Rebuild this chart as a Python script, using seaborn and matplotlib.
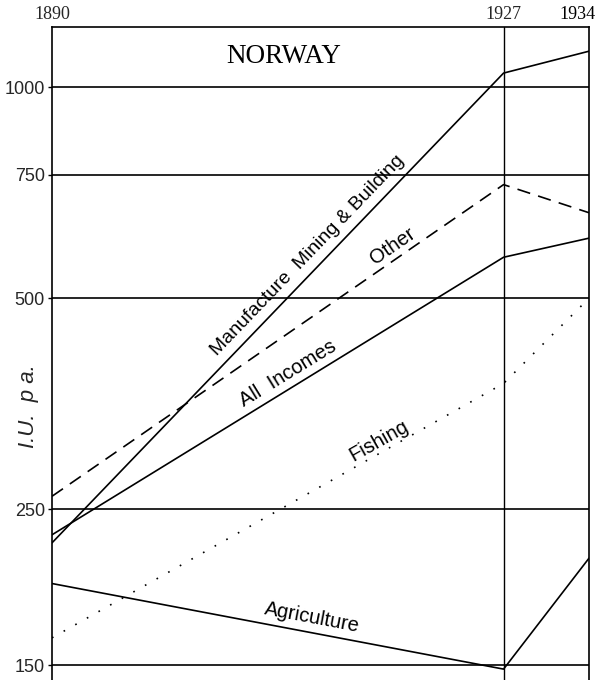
import numpy as np
import pandas as pd
import matplotlib
matplotlib.use("Agg")
import matplotlib.pyplot as plt
import matplotlib.transforms as mtrans
import seaborn as sns

years = [1890, 1927, 1934]
manufacture = [224, 1047, 1125]
other = [261, 726, 662]
all_incomes = [230, 572, 609]
fishing = [164, 378, 500]
agriculture = [196, 148, 213]
series_names = ["Manufacture Mining & Building", "Other", "All Incomes", "Fishing", "Agriculture"]
y_ticks = [150, 250, 500, 750, 1000]

sns.set_theme(style="white")
plt.rcParams['font.family'] = ['DejaVu Sans']

df = pd.DataFrame({
    "year": years * 5,
    "value": manufacture + other + all_incomes + fishing + agriculture,
    "series": sum([[n] * 3 for n in series_names], []),
})

fig = plt.figure(figsize=(5.96, 6.8), dpi=100)
ax = fig.add_axes([52 / 596, 0.0, (589 - 52) / 596, 1 - 27 / 680])

lw = 1.2
sns.lineplot(data=df, x="year", y="value", hue="series", style="series",
             palette={n: "black" for n in series_names},
             dashes={series_names[0]: "", series_names[1]: (8, 5),
                     series_names[2]: "", series_names[3]: (1, 7),
                     series_names[4]: ""},
             linewidth=lw, legend=False, ax=ax, zorder=3)

ax.set_yscale("log")
ax.set_xlim(1890, 1934)
ax.set_ylim(142.8, 1218)

ax.set_yticks(y_ticks)
ax.set_yticklabels([str(t) for t in y_ticks], fontsize=13, family="Liberation Sans")
ax.yaxis.set_minor_locator(matplotlib.ticker.NullLocator())
ax.set_xticks(years)
ax.xaxis.tick_top()
ax.set_xticklabels([str(y) for y in years[:-1]] + [""], fontsize=13, family="Liberation Serif")
ax.tick_params(axis="x", length=0, pad=3)
ax.tick_params(axis="y", length=3, width=1, color="black", pad=2, left=True)

# last year label, shifted right so it fits at the figure edge
off = mtrans.ScaledTranslation(6.5 / 100, 4.2 / 100, fig.dpi_scale_trans)
ax.text(years[-1], 1.0, str(years[-1]), transform=ax.get_xaxis_transform() + off,
        ha="right", va="bottom", fontsize=13, family="Liberation Serif", color="black")

for t in y_ticks:
    ax.axhline(t, color="black", lw=1.2, zorder=2)
ax.axvline(1927, color="black", lw=1.0, zorder=2)

for s in ["left", "right", "top"]:
    ax.spines[s].set_color("black")
    ax.spines[s].set_linewidth(1.2)
ax.spines["bottom"].set_visible(False)

ax.set_xlabel("")
ax.set_ylabel("I.U.  p a.", fontsize=16, style="italic", family="Liberation Sans")
ax.yaxis.set_label_coords(-0.025, 0.42)

ax.text(0.432, 0.955, "NORWAY", transform=ax.transAxes, fontsize=19.5,
        family="Liberation Serif", ha="center", va="center", color="black")

fig.canvas.draw()

def angle_of(vals, i0=0, i1=1):
    p0 = ax.transData.transform((years[i0], vals[i0]))
    p1 = ax.transData.transform((years[i1], vals[i1]))
    return np.degrees(np.arctan2(p1[1] - p0[1], p1[0] - p0[0]))

def place(label, px, py, vals, fs=14.5):
    x, y = ax.transData.inverted().transform(fig.transFigure.transform((px / 596, 1 - py / 680)))
    ax.text(x, y, label, rotation=angle_of(vals), rotation_mode="anchor",
            ha="center", va="center", fontsize=fs, color="black",
            family="Liberation Sans")

place("Manufacture  Mining & Building", 308, 255, manufacture, fs=14)
place("Other", 393, 246, other)
place("All  Incomes", 288, 374, all_incomes)
place("Fishing", 379, 441, fishing)
place("Agriculture", 312, 618, agriculture)

fig.savefig("out.png", dpi=100)
